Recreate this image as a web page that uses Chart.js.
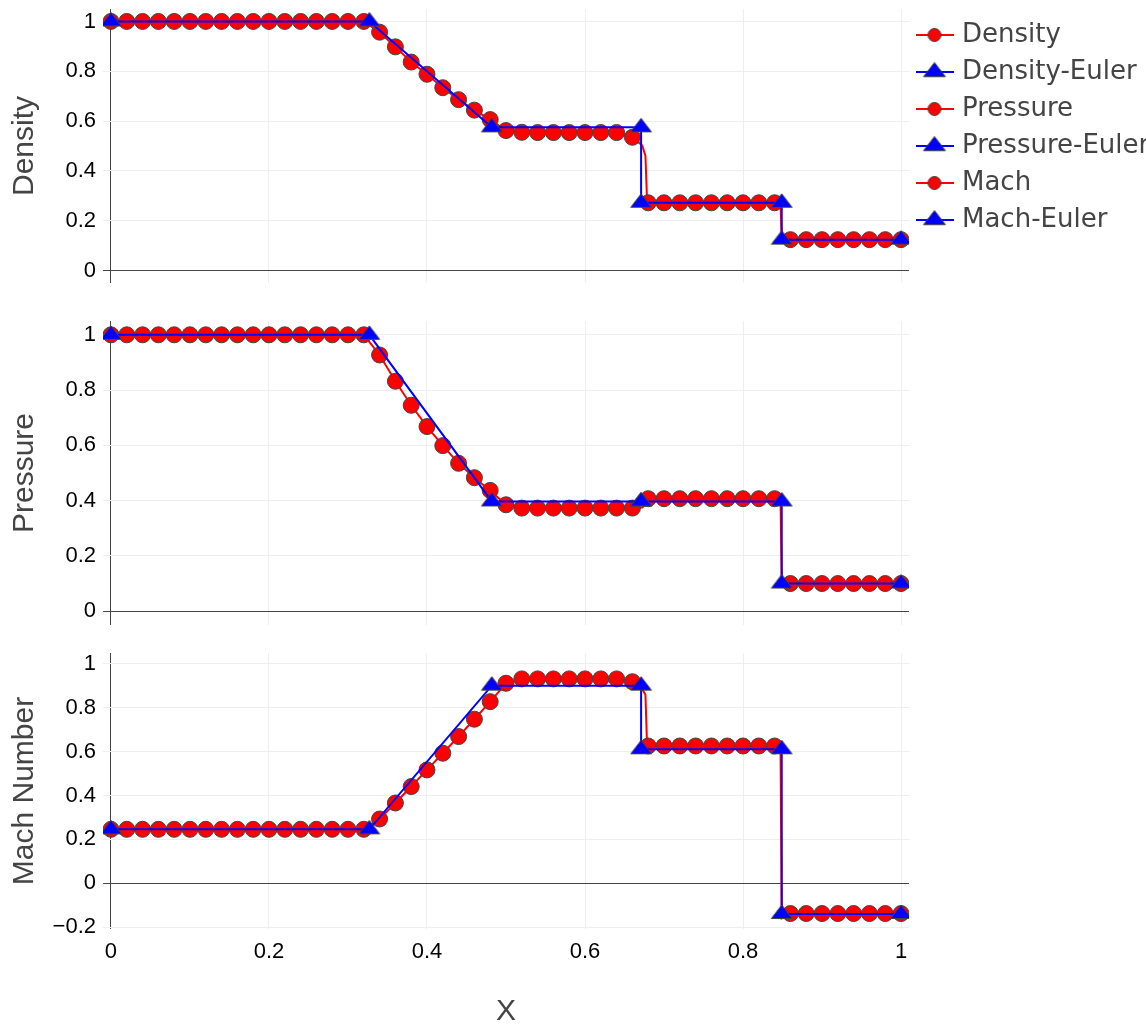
<!DOCTYPE html>
<html>
<head>
<meta charset="utf-8">
<title>Shock tube: numerical solution vs. exact Euler solution</title>
<script src="https://cdn.jsdelivr.net/npm/chart.js@4.4.1/dist/chart.umd.min.js"></script>
<style>
  html, body { margin: 0; padding: 0; background: #ffffff; overflow: hidden; }
  #wrap { position: relative; width: 1146px; height: 1024px; }
  #wrap canvas { position: absolute; left: 0; }
</style>
</head>
<body>
<div id="wrap">
  <canvas id="densityPanel" width="1146" height="300" style="top:0px"></canvas>
  <canvas id="pressurePanel" width="1146" height="340" style="top:300px"></canvas>
  <canvas id="machPanel" width="1146" height="384" style="top:640px"></canvas>
</div>
<script>
// ---- Numerical solution, sampled on the marker grid ----
const xGrid = [0, 0.02, 0.04, 0.06, 0.08, 0.1, 0.12, 0.14, 0.16, 0.18, 0.2, 0.22, 0.24, 0.26, 0.28, 0.3, 0.32,
  0.34, 0.36, 0.38, 0.4, 0.42, 0.44, 0.46, 0.48, 0.5, 0.52, 0.54, 0.56, 0.58, 0.6, 0.62, 0.64, 0.66,
  0.68, 0.7, 0.72, 0.74, 0.76, 0.78, 0.8, 0.82, 0.84,
  0.86, 0.88, 0.9, 0.92, 0.94, 0.96, 0.98, 1];

const density = [1, 1, 1, 1, 1, 1, 1, 1, 1, 1, 1, 1, 1, 1, 1, 1, 1,
  0.957, 0.898, 0.837, 0.788, 0.734, 0.686, 0.644, 0.606, 0.562, 0.555, 0.554, 0.554, 0.554, 0.554, 0.554, 0.554, 0.535,
  0.272, 0.272, 0.272, 0.272, 0.272, 0.272, 0.272, 0.272, 0.272,
  0.124, 0.124, 0.124, 0.124, 0.124, 0.124, 0.124, 0.124];

const pressure = [1, 1, 1, 1, 1, 1, 1, 1, 1, 1, 1, 1, 1, 1, 1, 1, 1,
  0.927, 0.832, 0.745, 0.668, 0.599, 0.535, 0.483, 0.437, 0.385, 0.373, 0.373, 0.373, 0.373, 0.373, 0.373, 0.373, 0.373,
  0.407, 0.407, 0.407, 0.407, 0.407, 0.407, 0.407, 0.407, 0.407,
  0.1, 0.1, 0.1, 0.1, 0.1, 0.1, 0.1, 0.1];

const mach = [0.246, 0.246, 0.246, 0.246, 0.246, 0.246, 0.246, 0.246, 0.246, 0.246, 0.246, 0.246, 0.246, 0.246, 0.246, 0.246, 0.246,
  0.293, 0.366, 0.441, 0.517, 0.593, 0.669, 0.748, 0.828, 0.912, 0.932, 0.932, 0.932, 0.932, 0.932, 0.932, 0.932, 0.919,
  0.626, 0.626, 0.626, 0.626, 0.626, 0.626, 0.626, 0.626, 0.626,
  -0.138, -0.138, -0.138, -0.138, -0.138, -0.138, -0.138, -0.138];

// Extra (unmarked) samples where the numerical profile steepens at the contact and the shock
const xEdge = [0.6725, 0.6765, 0.6785, 0.8475, 0.849];
const densityEdge = [0.502, 0.46, 0.285, 0.272, 0.124];
const pressureEdge = [0.375, 0.385, 0.4, 0.407, 0.1];
const machEdge = [0.885, 0.86, 0.635, 0.626, -0.16];

// ---- Exact Euler solution (wave breakpoints) ----
const xEuler = [0, 0.327, 0.482, 0.671, 0.671, 0.849, 0.849, 1];
const densityEuler = [1, 1, 0.575, 0.575, 0.272, 0.272, 0.124, 0.124];
const pressureEuler = [1, 1, 0.397, 0.397, 0.397, 0.397, 0.1, 0.1];
const machEuler = [0.246, 0.246, 0.901, 0.901, 0.611, 0.611, -0.14, -0.14];

// ---- Axis ticks ----
const xTicks = [0, 0.2, 0.4, 0.6, 0.8, 1];
const xTickLabels = ['0', '0.2', '0.4', '0.6', '0.8', '1'];
const yTicks = [0, 0.2, 0.4, 0.6, 0.8, 1];
const yTickLabels = ['0', '0.2', '0.4', '0.6', '0.8', '1'];
const machTicks = [-0.2, 0, 0.2, 0.4, 0.6, 0.8, 1];
const machTickLabels = ['\u22120.2', '0', '0.2', '0.4', '0.6', '0.8', '1'];

const seriesNames = ['Density', 'Density-Euler', 'Pressure', 'Pressure-Euler', 'Mach', 'Mach-Euler'];

const RED = '#ff0000';
const BLUE = '#0000ff';
const OUTLINE = '#444444';
const GRID = '#eeeeee';
const ZERO = '#444444';
const TEXT = '#444444';

// Wide "triangle-up" marker, optionally with a legend line behind it
function triangleMarker(r, w, h, withLine) {
  const c = document.createElement('canvas');
  c.width = w; c.height = h;
  const g = c.getContext('2d');
  const cx = w / 2, cy = h / 2;
  if (withLine) {
    g.strokeStyle = BLUE; g.lineWidth = 2;
    g.beginPath(); g.moveTo(0, cy); g.lineTo(w, cy); g.stroke();
  }
  const half = r * 2 / Math.sqrt(3);
  g.beginPath();
  g.moveTo(cx - half, cy + r / 2);
  g.lineTo(cx + half, cy + r / 2);
  g.lineTo(cx, cy - r);
  g.closePath();
  g.fillStyle = BLUE; g.fill();
  g.lineWidth = 1; g.strokeStyle = OUTLINE; g.stroke();
  return c;
}

// Circle marker with a legend line behind it
function circleMarker(r, w, h) {
  const c = document.createElement('canvas');
  c.width = w; c.height = h;
  const g = c.getContext('2d');
  const cx = w / 2, cy = h / 2;
  g.strokeStyle = RED; g.lineWidth = 2;
  g.beginPath(); g.moveTo(0, cy); g.lineTo(w, cy); g.stroke();
  g.beginPath(); g.arc(cx, cy, r, 0, Math.PI * 2);
  g.fillStyle = RED; g.fill();
  g.lineWidth = 1; g.strokeStyle = OUTLINE; g.stroke();
  return c;
}

const plotTriangle = triangleMarker(9, 24, 24, false);
const legendTriangle = triangleMarker(9.5, 38, 26, true);
const legendCircle = circleMarker(6.5, 38, 26);

function profile(values, edgeValues) {
  const marked = xGrid.map((x, i) => ({ x: x, y: values[i], marker: true }));
  const extra = xEdge.map((x, i) => ({ x: x, y: edgeValues[i], marker: false }));
  return marked.concat(extra).sort((a, b) => a.x - b.x);
}

const tickFont = { family: 'Liberation Sans', size: 22 };
const titleFont = { family: 'Liberation Sans', size: 30 };

function panel(id, cfg) {
  return new Chart(document.getElementById(id), {
    type: 'line',
    data: {
      datasets: [
        {
          label: cfg.name,
          data: profile(cfg.values, cfg.edge),
          borderColor: RED,
          borderWidth: 2,
          pointStyle: 'circle',
          pointRadius: (c) => (c.raw && c.raw.marker ? 8 : 0),
          pointBackgroundColor: RED,
          pointBorderColor: OUTLINE,
          pointBorderWidth: 1,
          order: 1
        },
        {
          label: cfg.name + '-Euler',
          data: xEuler.map((x, i) => ({ x: x, y: cfg.euler[i] })),
          borderColor: BLUE,
          borderWidth: 2,
          pointStyle: plotTriangle,
          pointRadius: 9,
          pointBorderWidth: 0,
          order: 0
        }
      ]
    },
    options: {
      responsive: false,
      animation: false,
      devicePixelRatio: 1,
      events: [],
      layout: { padding: cfg.padding },
      plugins: {
        legend: cfg.legend || { display: false },
        tooltip: { enabled: false }
      },
      scales: {
        x: {
          type: 'linear',
          min: -0.0101,
          max: 1.0101,
          afterBuildTicks: (s) => { s.ticks = xTicks.map((v) => ({ value: v })); },
          afterFit: (s) => { s.height = cfg.xHeight; s.paddingLeft = 0; s.paddingRight = 0; },
          grid: {
            color: (c) => (c.tick && c.tick.value === 0 ? ZERO : GRID),
            lineWidth: 1,
            drawTicks: false
          },
          border: { display: false },
          ticks: {
            display: cfg.showX,
            padding: 10,
            color: '#000000',
            font: tickFont,
            maxRotation: 0,
            autoSkip: false,
            callback: (v, i) => xTickLabels[i]
          },
          title: {
            display: cfg.showX,
            text: 'X',
            color: TEXT,
            font: { family: 'Liberation Sans', size: 30, lineHeight: 0.85 },
            padding: 0
          }
        },
        y: {
          type: 'linear',
          min: cfg.yMin,
          max: cfg.yMax,
          afterBuildTicks: (s) => { s.ticks = cfg.ticks.map((v) => ({ value: v })); },
          afterFit: (s) => { s.width = 103; s.paddingTop = 0; s.paddingBottom = 0; },
          grid: {
            color: (c) => (c.tick && c.tick.value === 0 ? ZERO : GRID),
            lineWidth: 1,
            drawTicks: false
          },
          border: { display: false },
          ticks: {
            padding: 7,
            color: '#000000',
            font: tickFont,
            autoSkip: false,
            callback: (v, i) => cfg.tickLabels[i]
          },
          title: {
            display: true,
            text: cfg.title,
            color: TEXT,
            font: titleFont,
            padding: { top: 7, bottom: 0 }
          }
        }
      }
    }
  });
}

panel('densityPanel', {
  name: 'Density', title: 'Density',
  values: density, edge: densityEdge, euler: densityEuler,
  yMin: -0.05, yMax: 1.05, ticks: yTicks, tickLabels: yTickLabels,
  padding: { top: 7, left: 0, right: 0, bottom: 17 },
  xHeight: 0, showX: false,
  legend: {
    display: true,
    position: 'right',
    align: 'start',
    maxWidth: 237,
    onClick: null,
    // a blank, thin title row keeps the first entry clear of the plot's top edge
    title: { display: true, text: ' ', padding: 0, font: { size: 4, lineHeight: 1 } },
    labels: {
      usePointStyle: true,
      pointStyleWidth: 29,
      padding: 11,
      color: TEXT,
      font: { family: 'DejaVu Sans', size: 26 },
      generateLabels: () => seriesNames.map((text, i) => ({
        text: text,
        pointStyle: i % 2 ? legendTriangle : legendCircle,
        fontColor: TEXT,
        fillStyle: 'rgba(0,0,0,0)',
        strokeStyle: 'rgba(0,0,0,0)',
        lineWidth: 0,
        hidden: false,
        datasetIndex: i
      }))
    }
  }
});

panel('pressurePanel', {
  name: 'Pressure', title: 'Pressure',
  values: pressure, edge: pressureEdge, euler: pressureEuler,
  yMin: -0.05, yMax: 1.05, ticks: yTicks, tickLabels: yTickLabels,
  padding: { top: 21, left: 0, right: 237, bottom: 15 },
  xHeight: 0, showX: false
});

panel('machPanel', {
  name: 'Mach', title: 'Mach Number',
  values: mach, edge: machEdge, euler: machEuler,
  yMin: -0.2085, yMax: 1.05, ticks: machTicks, tickLabels: machTickLabels,
  padding: { top: 13, left: 0, right: 237, bottom: 0 },
  xHeight: 95, showX: true
});
</script>
</body>
</html>
